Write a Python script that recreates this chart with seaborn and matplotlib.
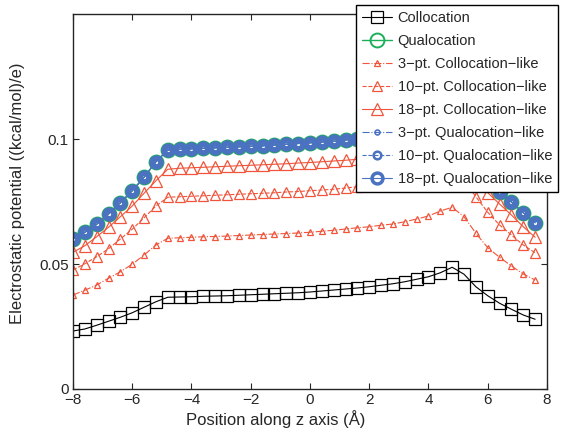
import numpy as np
import pandas as pd
import matplotlib
matplotlib.use("Agg")
import matplotlib.pyplot as plt
import seaborn as sns

sns.set_style("ticks")
plt.rcParams.update({
    'font.family': ['Liberation Sans', 'DejaVu Sans'],
    'font.size': 11,
    'xtick.direction': 'in',
    'ytick.direction': 'in',
    'xtick.top': True,
    'ytick.right': True,
    'axes.linewidth': 1.0,
})

# position along z axis (Angstrom), 40 sample points
z = np.arange(-8.0, 7.61, 0.4)

collocation = [0.0232, 0.0240, 0.0255, 0.0271, 0.0287, 0.0305, 0.0327, 0.0349,
               0.0367, 0.0368, 0.0369, 0.0371, 0.0372, 0.0373, 0.0375, 0.0377,
               0.0379, 0.0381, 0.0383, 0.0385, 0.0388, 0.0392, 0.0396, 0.0400,
               0.0404, 0.0409, 0.0415, 0.0421, 0.0429, 0.0439, 0.0449, 0.0465,
               0.0487, 0.0459, 0.0409, 0.0373, 0.0343, 0.0319, 0.0296, 0.0279]

qualocation = [0.0600, 0.0627, 0.0659, 0.0700, 0.0745, 0.0793, 0.0847, 0.0909,
               0.0956, 0.0959, 0.0961, 0.0963, 0.0965, 0.0967, 0.0969, 0.0971,
               0.0973, 0.0976, 0.0979, 0.0982, 0.0985, 0.0988, 0.0991, 0.0996,
               0.1001, 0.1006, 0.1012, 0.1019, 0.1027, 0.1037, 0.1049, 0.1063,
               0.1079, 0.0985, 0.0905, 0.0845, 0.0789, 0.0748, 0.0705, 0.0665]

coll_3pt = [0.0376, 0.0395, 0.0416, 0.0443, 0.0469, 0.0499, 0.0536, 0.0576,
            0.0603, 0.0605, 0.0607, 0.0609, 0.0610, 0.0612, 0.0614, 0.0616,
            0.0618, 0.0620, 0.0622, 0.0624, 0.0627, 0.0631, 0.0635, 0.0640,
            0.0645, 0.0649, 0.0655, 0.0660, 0.0669, 0.0680, 0.0692, 0.0712,
            0.0727, 0.0689, 0.0623, 0.0565, 0.0527, 0.0492, 0.0460, 0.0436]

coll_10pt = [0.0476, 0.0501, 0.0529, 0.0561, 0.0600, 0.0639, 0.0685, 0.0732,
             0.0767, 0.0769, 0.0771, 0.0773, 0.0775, 0.0777, 0.0779, 0.0781,
             0.0783, 0.0785, 0.0788, 0.0790, 0.0793, 0.0796, 0.0799, 0.0804,
             0.0809, 0.0814, 0.0820, 0.0827, 0.0836, 0.0847, 0.0860, 0.0876,
             0.0893, 0.0835, 0.0769, 0.0707, 0.0656, 0.0616, 0.0576, 0.0545]

coll_18pt = [0.0547, 0.0573, 0.0609, 0.0647, 0.0689, 0.0732, 0.0783, 0.0833,
             0.0879, 0.0883, 0.0885, 0.0887, 0.0889, 0.0891, 0.0893, 0.0895,
             0.0897, 0.0899, 0.0901, 0.0904, 0.0906, 0.0909, 0.0912, 0.0915,
             0.0919, 0.0924, 0.0930, 0.0937, 0.0945, 0.0955, 0.0967, 0.0981,
             0.0997, 0.0915, 0.0835, 0.0785, 0.0740, 0.0696, 0.0649, 0.0607]

# qualocation-like curves lie on top of the qualocation curve
qual_3pt = qualocation
qual_10pt = qualocation
qual_18pt = qualocation

RED = '#F0543A'
GREEN = '#1BAF5A'
BLUE = '#4A72C0'

series = [
    ("Collocation", collocation, dict(color='black', ls='-', lw=0.8, marker='s', ms=8, mew=0.9)),
    ("Qualocation", qualocation, dict(color=GREEN, ls='-', lw=1.0, marker='o', ms=10, mew=1.4)),
    ("3\u2212pt. Collocation\u2212like", coll_3pt, dict(color=RED, ls='-.', lw=0.8, marker='^', ms=5, mew=0.9)),
    ("10\u2212pt. Collocation\u2212like", coll_10pt, dict(color=RED, ls='--', lw=0.8, marker='^', ms=7, mew=0.9)),
    ("18\u2212pt. Collocation\u2212like", coll_18pt, dict(color=RED, ls='-', lw=0.8, marker='^', ms=9, mew=0.9)),
    ("3\u2212pt. Qualocation\u2212like", qual_3pt, dict(color=BLUE, ls='-.', lw=0.8, marker='o', ms=3.5, mew=1.2)),
    ("10\u2212pt. Qualocation\u2212like", qual_10pt, dict(color=BLUE, ls='--', lw=0.8, marker='o', ms=5.5, mew=1.8)),
    ("18\u2212pt. Qualocation\u2212like", qual_18pt, dict(color=BLUE, ls='-', lw=0.8, marker='o', ms=7.8, mew=2.5)),
]

fig = plt.figure(figsize=(5.67, 4.34), dpi=100)
ax = fig.add_axes([0.1287, 0.1037, 0.836, 0.864])

for name, vals, st in series:
    df = pd.DataFrame({'z': z, 'phi': vals})
    sns.lineplot(data=df, x='z', y='phi', ax=ax, label=name, color=st['color'],
                 linestyle=st['ls'], linewidth=st['lw'], marker=st['marker'],
                 markersize=st['ms'], markeredgewidth=st['mew'],
                 markerfacecolor='none', markeredgecolor=st['color'])

ax.set_xlim(-8, 8)
ax.set_ylim(0, 0.15)
ax.set_xticks(np.arange(-8, 9, 2))
ax.set_xticklabels([str(v).replace('-', '\u2212') for v in range(-8, 9, 2)])
ax.set_yticks([0, 0.05, 0.1])
ax.set_yticklabels(['0', '0.05', '0.1'])
ax.tick_params(length=4, width=0.8, labelsize=11, pad=3)
ax.set_xlabel("Position along z axis (\u00c5)", fontsize=12, labelpad=0)
ax.xaxis.set_label_coords(0.428, -0.055)
ax.set_ylabel("Electrostatic potential ((kcal/mol)/e)", fontsize=12, labelpad=4)
ax.yaxis.set_label_coords(-0.102, 0.523)

leg = ax.legend(loc='upper right', bbox_to_anchor=(0.984, 0.988),
                bbox_transform=fig.transFigure, borderaxespad=0,
                fontsize=10.5, frameon=True, fancybox=False, framealpha=1,
                edgecolor='black', handlelength=2.1, handletextpad=0.35,
                labelspacing=0.62, borderpad=0.4)
leg.get_frame().set_linewidth(1.0)
leg.set_zorder(10)

fig.savefig("out.png", dpi=100)
